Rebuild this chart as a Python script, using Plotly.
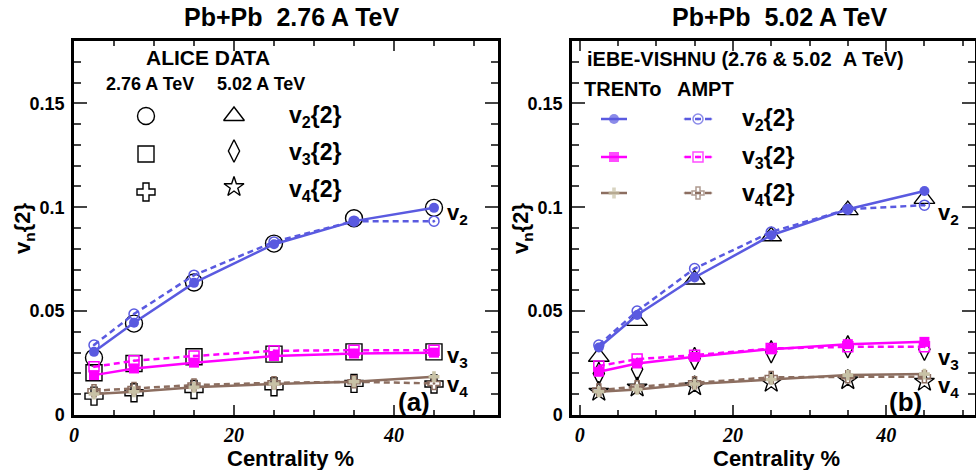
import plotly.graph_objects as go

# ---------------- data ----------------
CENT = [2.5, 7.5, 15, 25, 35, 45]

ALICE_276_V2 = [0.0275, 0.0440, 0.0638, 0.0825, 0.0947, 0.0997]
ALICE_276_V3 = [0.0203, 0.0248, 0.0280, 0.0293, 0.0304, 0.0304]
ALICE_276_V4 = [0.0091, 0.0107, 0.0123, 0.0136, 0.0152, 0.0149]
TRENTO_276_V2 = [0.0304, 0.0444, 0.0636, 0.0822, 0.0933, 0.0997]
TRENTO_276_V3 = [0.0192, 0.0224, 0.0252, 0.0284, 0.0296, 0.0300]
TRENTO_276_V4 = [0.0101, 0.0112, 0.0133, 0.0149, 0.0160, 0.0184]
AMPT_276_V2 = [0.0337, 0.0486, 0.0673, 0.0833, 0.0933, 0.0933]
AMPT_276_V3 = [0.0232, 0.0261, 0.0284, 0.0309, 0.0312, 0.0312]
AMPT_276_V4 = [0.0117, 0.0127, 0.0144, 0.0155, 0.0160, 0.0152]

ALICE_502_V2 = [0.0280, 0.0453, 0.0652, 0.0860, 0.0986, 0.1040]
ALICE_502_V3 = [0.0200, 0.0220, 0.0272, 0.0304, 0.0328, 0.0316]
ALICE_502_V4 = [0.0112, 0.0133, 0.0139, 0.0155, 0.0168, 0.0160]
TRENTO_502_V2 = [0.0325, 0.0481, 0.0662, 0.0865, 0.0990, 0.1078]
TRENTO_502_V3 = [0.0208, 0.0248, 0.0280, 0.0317, 0.0341, 0.0352]
TRENTO_502_V4 = [0.0112, 0.0123, 0.0149, 0.0171, 0.0192, 0.0197]
AMPT_502_V2 = [0.0337, 0.0500, 0.0705, 0.0881, 0.0990, 0.1010]
AMPT_502_V3 = [0.0236, 0.0269, 0.0288, 0.0320, 0.0328, 0.0328]
AMPT_502_V4 = [0.0120, 0.0136, 0.0155, 0.0181, 0.0184, 0.0184]

X_TICKS = [0, 20, 40]
Y_TICKS = [0, 0.05, 0.1, 0.15]
Y_TICK_TEXT = ["0", "0.05", "0.1", "0.15"]

# ---------------- layout constants ----------------
W, H = 976, 470
XDOM_PX = {"L": (74, 498), "R": (572, 975)}
YDOM_PX = (41, 415)
XRANGE = {"L": [0, 53], "R": [-1.0, 51.6]}
YRANGE = [0, 0.18]

BLUE = "#5a5ae0"
MAG = "#ff00ff"
BROWN = "#8c6e60"
TAN = "#c8c2a6"
FONT = "Liberation Sans"


def paper(px, py):
    return px / W, 1 - py / H


def px2data(panel, px, py):
    d = XDOM_PX[panel]
    xr = XRANGE[panel]
    x = xr[0] + (px - d[0]) / (d[1] - d[0]) * (xr[1] - xr[0])
    y = YRANGE[0] + (YDOM_PX[1] - py) / (YDOM_PX[1] - YDOM_PX[0]) * (YRANGE[1] - YRANGE[0])
    return x, y


fig = go.Figure()

AX = {"L": ("x", "y"), "R": ("x2", "y2")}


def add(panel, x, y, **kw):
    xa, ya = AX[panel]
    fig.add_trace(go.Scatter(x=x, y=y, xaxis=xa, yaxis=ya, showlegend=False,
                             hoverinfo="skip", cliponaxis=False, **kw))


def alice(panel, y, symbol, size):
    add(panel, CENT, y, mode="markers",
        marker=dict(symbol=symbol, size=size, color="black",
                    line=dict(color="black", width=1.4)))


def trento(panel, y, color, symbol, mcolor, msize):
    add(panel, CENT, y, mode="lines+markers",
        line=dict(color=color, width=2.5),
        marker=dict(symbol=symbol, size=msize, color=mcolor,
                    line=dict(width=0)))


def ampt(panel, y, color, symbol, msize):
    add(panel, CENT, y, mode="lines+markers",
        line=dict(color=color, width=2.5, dash="6px,4px"),
        marker=dict(symbol=symbol, size=msize, color=color,
                    line=dict(color=color, width=1.5)))


# left panel 2.76
alice("L", ALICE_276_V2, "circle-open", 17)
alice("L", ALICE_276_V3, "square-open", 16)
alice("L", ALICE_276_V4, "cross-open", 15)
ampt("L", AMPT_276_V2, BLUE, "circle-open-dot", 10)
ampt("L", AMPT_276_V3, MAG, "square-open-dot", 10)
ampt("L", AMPT_276_V4, BROWN, "cross-open-dot", 10)
trento("L", TRENTO_276_V2, BLUE, "circle", BLUE, 10)
trento("L", TRENTO_276_V3, MAG, "square", MAG, 10)
trento("L", TRENTO_276_V4, BROWN, "cross", TAN, 9)

# right panel 5.02
alice("R", ALICE_502_V2, "triangle-up-open", 18)
alice("R", ALICE_502_V3, "diamond-tall-open", 16)
alice("R", ALICE_502_V4, "star-open", 15)
ampt("R", AMPT_502_V2, BLUE, "circle-open-dot", 10)
ampt("R", AMPT_502_V3, MAG, "square-open-dot", 10)
ampt("R", AMPT_502_V4, BROWN, "cross-open-dot", 10)
trento("R", TRENTO_502_V2, BLUE, "circle", BLUE, 10)
trento("R", TRENTO_502_V3, MAG, "square", MAG, 10)
trento("R", TRENTO_502_V4, BROWN, "cross", TAN, 9)

# ---------------- legend keys (left: ALICE symbols) ----------------
LEG_L = [  # (px, py, symbol, size)
    (146, 116, "circle-open", 17), (234, 116, "triangle-up-open", 18),
    (146, 154, "square-open", 16), (234, 151, "diamond-tall-open", 16),
    (146, 192, "cross-open", 15), (234, 187, "star-open", 15),
]
for px, py, sym, sz in LEG_L:
    x, y = px2data("L", px, py)
    add("L", [x], [y], mode="markers",
        marker=dict(symbol=sym, size=sz, color="black", line=dict(color="black", width=1.4)))

# ---------------- legend keys (right: model lines) ----------------
LEG_R_ROWS = [(119, BLUE, "circle", BLUE, "circle-open-dot"),
              (157, MAG, "square", MAG, "square-open-dot"),
              (193, BROWN, "cross", TAN, "cross-open-dot")]
for py, col, sym_t, mcol_t, sym_a in LEG_R_ROWS:
    x1, y = px2data("R", 601, py)
    xm, _ = px2data("R", 614, py)
    x2, _ = px2data("R", 627, py)
    add("R", [x1, xm, x2], [y, y, y], mode="lines+markers",
        line=dict(color=col, width=2.5),
        marker=dict(symbol=sym_t, size=[0, 10 if sym_t != "cross" else 9, 0], color=mcol_t, line=dict(width=0)))
    x1, _ = px2data("R", 685, py)
    xm, _ = px2data("R", 698, py)
    x2, _ = px2data("R", 711, py)
    add("R", [x1, xm, x2], [y, y, y], mode="lines+markers",
        line=dict(color=col, width=2.5, dash="6px,4px"),
        marker=dict(symbol=sym_a, size=[0, 10, 0], color=col, line=dict(color=col, width=1.5)))

# ---------------- axes ----------------
def xaxis(panel, anchor):
    d = XDOM_PX[panel]
    return dict(domain=[d[0] / W, d[1] / W], range=XRANGE[panel], anchor=anchor,
                automargin=False,
                tickvals=X_TICKS, ticks="inside", ticklen=10, tickwidth=2,
                showline=True, linewidth=2.5, linecolor="black", mirror="ticks",
                showgrid=False, zeroline=False,
                minor=dict(dtick=5, tick0=0, ticks="inside", ticklen=5, tickwidth=2,
                           showgrid=False),
                tickfont=dict(family="Liberation Serif", size=20, color="black",
                              style="italic", weight="bold"),
                ticklabelstandoff=0)


def yaxis(anchor):
    return dict(domain=[1 - YDOM_PX[1] / H, 1 - YDOM_PX[0] / H], range=YRANGE, anchor=anchor,
                automargin=False,
                tickvals=Y_TICKS, ticktext=Y_TICK_TEXT, ticks="inside", ticklen=13, tickwidth=2,
                showline=True, linewidth=2.5, linecolor="black", mirror="ticks",
                showgrid=False, zeroline=False,
                minor=dict(dtick=0.01, tick0=0, ticks="inside", ticklen=7, tickwidth=2,
                           showgrid=False),
                tickfont=dict(family=FONT, size=18, color="black", weight="bold"),
                ticklabelstandoff=3)


fig.update_layout(
    width=W, height=H, margin=dict(l=0, r=0, t=0, b=0, autoexpand=False),
    paper_bgcolor="white", plot_bgcolor="white",
    xaxis=xaxis("L", "y"), yaxis=yaxis("x"),
    xaxis2=xaxis("R", "y2"), yaxis2=yaxis("x2"),
    showlegend=False,
)

# ---------------- text ----------------
def text(px, py, s, size, angle=0, family=FONT, xanchor="center"):
    x, y = paper(px, py)
    fig.add_annotation(x=x, y=y, xref="paper", yref="paper", text=s, showarrow=False,
                       xanchor=xanchor, yanchor="middle", textangle=angle,
                       font=dict(family=family, size=size, color="black", weight="bold"))


text(291, 17, "Pb+Pb&nbsp;&nbsp;2.76 A TeV", 25)
text(779, 17, "Pb+Pb&nbsp;&nbsp;5.02 A TeV", 25)
text(290, 458, "Centrality %", 22)
text(776, 458, "Centrality %", 22)
text(24, 229, "v<sub>n</sub>{2}", 22, angle=-90)
text(522, 229, "v<sub>n</sub>{2}", 22, angle=-90)

text(208, 57, "ALICE DATA", 21)
text(150, 84, "2.76 A TeV", 18)
text(261, 84, "5.02 A TeV", 18)
text(315, 117, "v<sub>2</sub>{2}", 23)
text(315, 154, "v<sub>3</sub>{2}", 23)
text(315, 190, "v<sub>4</sub>{2}", 23)
text(457, 214, "v<sub>2</sub>", 22)
text(457, 357, "v<sub>3</sub>", 22)
text(457, 386, "v<sub>4</sub>", 22)
text(414, 402, "(a)", 26)

text(745, 59, "iEBE-VISHNU (2.76 &amp; 5.02&nbsp;&nbsp;A TeV)", 20)
text(622, 89, "TRENTo", 20)
text(705, 89, "AMPT", 20)
text(768, 120, "v<sub>2</sub>{2}", 23)
text(768, 157, "v<sub>3</sub>{2}", 23)
text(768, 194, "v<sub>4</sub>{2}", 23)
text(948, 214, "v<sub>2</sub>", 22)
text(948, 359, "v<sub>3</sub>", 22)
text(948, 387, "v<sub>4</sub>", 22)
text(905, 402, "(b)", 26)

fig.write_html("out.html", config={"displayModeBar": False},
               post_script="document.body.style.margin='0';document.body.style.overflow='hidden';")
